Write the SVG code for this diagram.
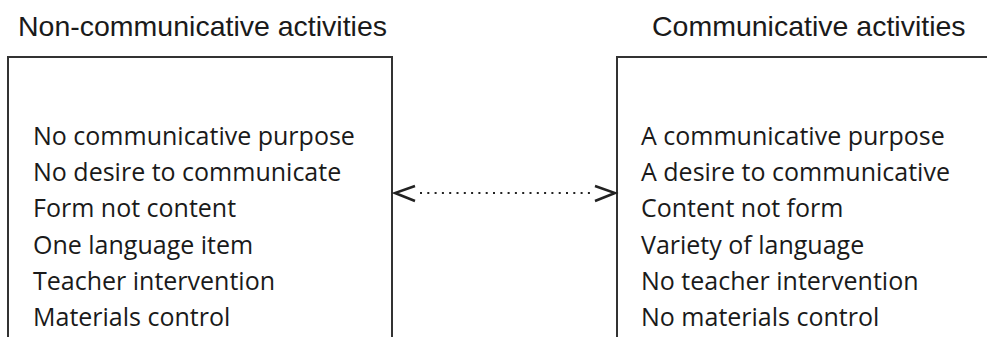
<svg xmlns="http://www.w3.org/2000/svg" width="987" height="337" viewBox="0 0 987 337">
<style>
.title{font-family:"Liberation Sans",Arial,sans-serif;font-size:28.5px;fill:#1a1a1a}
.item{font-family:"Open Sans","Liberation Sans",sans-serif;font-size:25px;fill:#1a1a1a}
.box{fill:none;stroke:#333;stroke-width:2}
.dots{stroke:#222;stroke-width:2;stroke-dasharray:2 5.3;fill:none}
.head{stroke:#222;stroke-width:2.5;fill:none}
</style>
<rect width="987" height="337" fill="#fff"/>
<g id="left">
<text class="title" x="18" y="36">Non-communicative activities</text>
<path class="box" d="M8,340 V57 H392 V340"/>
<text class="item" x="33" y="145">No communicative purpose</text>
<text class="item" x="33" y="181">No desire to communicate</text>
<text class="item" x="33" y="217">Form not content</text>
<text class="item" x="33" y="254">One language item</text>
<text class="item" x="33" y="290">Teacher intervention</text>
<text class="item" x="33" y="326">Materials control</text>
</g>
<g id="right">
<text class="title" x="652" y="36">Communicative activities</text>
<path class="box" d="M617,340 V57 H990"/>
<text class="item" x="641" y="145">A communicative purpose</text>
<text class="item" x="641" y="181">A desire to communicative</text>
<text class="item" x="641" y="217">Content not form</text>
<text class="item" x="641" y="254">Variety of language</text>
<text class="item" x="641" y="290">No teacher intervention</text>
<text class="item" x="641" y="326">No materials control</text>
</g>
<g id="connectors">
<line class="dots" x1="420" y1="193" x2="592" y2="193"/>
<polyline class="head" points="415,186 395,193 415,201"/>
<polyline class="head" points="595,186 615,193 595,201"/>
</g>
</svg>
